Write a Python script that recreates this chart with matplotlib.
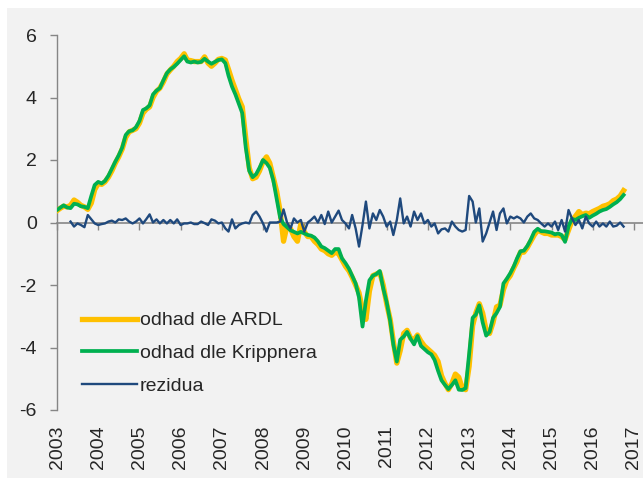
import numpy as np
import pandas as pd
import matplotlib
matplotlib.use("Agg")
import matplotlib.pyplot as plt
import matplotlib.dates as mdates
from matplotlib.patches import Rectangle
from matplotlib.ticker import NullFormatter

plt.rcParams["font.family"] = ["Liberation Sans", "DejaVu Sans"]
plt.rcParams["axes.unicode_minus"] = False

# ---------- data (monthly, Jan 2003 - Oct 2016) ------------------------------
START = "2003-01-01"

ardl = [
    0.38, 0.46, 0.52, 0.50, 0.55, 0.72, 0.65, 0.55, 0.50, 0.42, 0.62, 1.05,
    1.25, 1.22, 1.30, 1.45, 1.65, 1.90, 2.10, 2.35, 2.72, 2.90, 2.95, 3.00,
    3.18, 3.50, 3.62, 3.70, 4.00, 4.20, 4.30, 4.50, 4.75, 4.88, 5.00, 5.15,
    5.25, 5.40, 5.20, 5.18, 5.15, 5.15, 5.15, 5.30, 5.10, 5.00, 5.10, 5.22,
    5.25, 5.20, 4.90, 4.55, 4.25, 3.95, 3.70, 2.70, 1.75, 1.40, 1.45, 1.65,
    1.95, 2.10, 1.90, 1.45, 1.00, 0.35, -0.60, -0.10, -0.20, -0.45, -0.60, -0.05,
    -0.30, -0.45, -0.45, -0.60, -0.70, -0.85, -0.90, -1.00, -1.05, -0.95, -1.00, -1.20,
    -1.40, -1.55, -1.75, -2.00, -2.25, -2.80, -3.10, -2.20, -1.70, -1.65, -1.60, -2.00,
    -2.60, -3.10, -3.80, -4.50, -4.10, -3.55, -3.45, -3.70, -3.75, -3.60, -3.80, -3.95,
    -4.05, -4.15, -4.25, -4.45, -4.90, -5.15, -5.35, -5.15, -4.85, -4.95, -5.30, -5.35,
    -4.60, -3.30, -2.90, -2.60, -2.90, -3.45, -3.55, -3.20, -2.70, -2.65, -2.15, -1.85,
    -1.70, -1.45, -1.25, -0.95, -0.95, -0.80, -0.60, -0.40, -0.25, -0.30, -0.35, -0.35,
    -0.40, -0.40, -0.40, -0.45, -0.55, -0.25, 0.05, 0.20, 0.35, 0.25, 0.30, 0.28,
    0.35, 0.40, 0.45, 0.52, 0.55, 0.60, 0.70, 0.75, 0.85, 1.02,
]

krippner = [
    0.40, 0.48, 0.55, 0.48, 0.46, 0.60, 0.58, 0.52, 0.50, 0.46, 0.85, 1.20,
    1.30, 1.25, 1.33, 1.50, 1.72, 1.95, 2.15, 2.40, 2.80, 2.92, 2.95, 3.05,
    3.25, 3.60, 3.65, 3.75, 4.10, 4.22, 4.30, 4.55, 4.78, 4.90, 4.98, 5.08,
    5.20, 5.32, 5.15, 5.12, 5.15, 5.12, 5.14, 5.24, 5.15, 5.08, 5.14, 5.20,
    5.22, 5.10, 4.70, 4.35, 4.10, 3.80, 3.50, 2.40, 1.65, 1.45, 1.55, 1.75,
    2.00, 1.90, 1.75, 1.35, 0.75, 0.15, -0.05, -0.15, -0.25, -0.30, -0.35, -0.30,
    -0.35, -0.40, -0.42, -0.48, -0.60, -0.77, -0.82, -0.90, -0.98, -0.85, -0.85, -1.15,
    -1.30, -1.48, -1.70, -1.95, -2.40, -3.33, -2.50, -1.85, -1.70, -1.65, -1.55, -2.10,
    -2.55, -3.15, -3.90, -4.45, -3.75, -3.65, -3.50, -3.72, -3.90, -3.63, -3.95, -4.05,
    -4.15, -4.22, -4.40, -4.75, -5.05, -5.20, -5.33, -5.20, -5.05, -5.35, -5.36, -5.30,
    -4.20, -3.05, -2.95, -2.65, -3.20, -3.62, -3.50, -3.05, -2.90, -2.70, -1.95, -1.80,
    -1.62, -1.40, -1.15, -0.92, -0.90, -0.75, -0.55, -0.30, -0.20, -0.28, -0.28, -0.30,
    -0.32, -0.38, -0.35, -0.40, -0.62, -0.12, 0.12, 0.08, 0.15, 0.20, 0.24, 0.15,
    0.22, 0.28, 0.35, 0.40, 0.43, 0.50, 0.58, 0.65, 0.75, 0.88,
]

rezidua = [
    np.nan, np.nan, np.nan, np.nan, 0.03, -0.13, -0.03, -0.08, -0.15, 0.24, 0.10, -0.03,
    -0.08, -0.05, -0.03, 0.03, 0.06, 0.00, 0.10, 0.08, 0.13, 0.03, -0.03, 0.03,
    0.13, -0.03, 0.10, 0.26, 0.00, 0.10, -0.03, 0.08, -0.03, 0.08, -0.03, 0.10,
    -0.08, -0.03, -0.03, 0.00, -0.05, -0.05, 0.03, -0.02, -0.08, 0.10, 0.06, -0.03,
    0.00, -0.19, -0.29, 0.10, -0.19, -0.08, -0.03, 0.00, -0.03, 0.24, 0.35, 0.19,
    -0.03, -0.29, 0.00, 0.00, 0.00, 0.03, 0.42, 0.00, -0.19, 0.13, 0.00, 0.08,
    -0.29, 0.00, 0.08, 0.19, 0.00, 0.24, -0.05, 0.35, 0.00, 0.19, 0.38, 0.08,
    -0.03, -0.19, 0.24, -0.19, -0.77, -0.08, 0.67, -0.19, 0.29, 0.08, 0.40, 0.19,
    -0.13, 0.03, -0.40, 0.08, 0.77, -0.03, 0.19, -0.13, 0.35, 0.08, 0.29, -0.03,
    0.08, -0.13, -0.03, -0.35, -0.22, -0.19, -0.29, 0.03, -0.13, -0.24, -0.29, -0.24,
    0.85, 0.67, 0.00, 0.45, -0.61, -0.35, 0.00, 0.35, -0.24, 0.29, 0.45, -0.03,
    0.19, 0.13, 0.19, 0.13, 0.00, 0.19, 0.29, 0.13, 0.08, -0.03, -0.13, -0.03,
    -0.13, 0.03, -0.24, 0.08, -0.29, 0.40, 0.13, -0.08, 0.08, -0.19, 0.19, -0.03,
    -0.13, 0.03, -0.13, -0.03, -0.13, 0.03, -0.13, -0.10, 0.00, -0.13,
]

YEARS = list(range(2003, 2018))
YTICKS = [-6, -4, -2, 0, 2, 4, 6]

dates = pd.date_range(START, periods=len(krippner), freq="MS")
year_ticks = [pd.Timestamp(f"{y}-01-01") for y in YEARS]

COLOR_ARDL = "#FFC000"
COLOR_KRIP = "#00B050"
COLOR_REZ = "#1F497D"
AXIS_GRAY = "#868686"
TEXT = "#262626"
BG = "#F2F2F2"

# ---------- figure -----------------------------------------------------------
W, H = 643, 478
fig = plt.figure(figsize=(W / 100, H / 100), dpi=100)
fig.patch.set_facecolor("white")
fig.patches.append(Rectangle((7 / W, 0), 1 - 7 / W, (H - 8) / H,
                             transform=fig.transFigure, facecolor=BG,
                             edgecolor="none", zorder=-10))

ax = fig.add_axes([57 / W, (H - 410) / H, (W - 57) / W, 375 / H])
ax.set_facecolor("none")

ax.plot(dates, ardl, color=COLOR_ARDL, lw=3.8, label="odhad dle ARDL",
        solid_joinstyle="round", zorder=3)
ax.plot(dates, krippner, color=COLOR_KRIP, lw=2.7, label="odhad dle Krippnera",
        solid_joinstyle="round", zorder=4)
ax.plot(dates, rezidua, color=COLOR_REZ, lw=1.7, label="rezidua",
        solid_joinstyle="round", zorder=5)

x0 = pd.Timestamp("2003-01-01")
x1 = pd.Timestamp("2017-01-01") + pd.Timedelta(days=80)
ax.set_xlim(x0, x1)
ax.set_ylim(-6, 6)
ax.set_yticks(YTICKS)
ax.set_yticklabels([str(v) for v in YTICKS])

for s in ("top", "right"):
    ax.spines[s].set_visible(False)
ax.spines["left"].set_color(AXIS_GRAY)
ax.spines["left"].set_linewidth(1.0)
ax.tick_params(axis="y", direction="out", length=5, width=1.0,
               color=AXIS_GRAY, labelsize=14, labelcolor=TEXT, pad=9.5)

# horizontal axis runs through zero, tick marks pointing down, no labels
ax.spines["bottom"].set_position(("data", 0))
ax.spines["bottom"].set_color(AXIS_GRAY)
ax.spines["bottom"].set_linewidth(1.2)
ax.set_xticks(year_ticks)
ax.xaxis.set_major_formatter(NullFormatter())
ax.tick_params(axis="x", direction="out", length=5, width=1.0,
               color=AXIS_GRAY, labelbottom=False)

# year labels along the bottom of the plot area
years_ax = ax.secondary_xaxis("bottom")
years_ax.set_xticks(year_ticks)
years_ax.xaxis.set_major_formatter(mdates.DateFormatter("%Y"))
years_ax.spines["bottom"].set_visible(False)
years_ax.tick_params(axis="x", length=0, labelsize=14, labelcolor=TEXT,
                     labelrotation=90, pad=11)

leg = ax.legend(loc="upper left", bbox_to_anchor=(0.043, 0.262),
                frameon=False, fontsize=14, handlelength=2.8,
                handletextpad=0.15, labelspacing=0.78, borderpad=0,
                borderaxespad=0)
for t in leg.get_texts():
    t.set_color(TEXT)

fig.savefig("out.png", dpi=100, facecolor=fig.get_facecolor())
